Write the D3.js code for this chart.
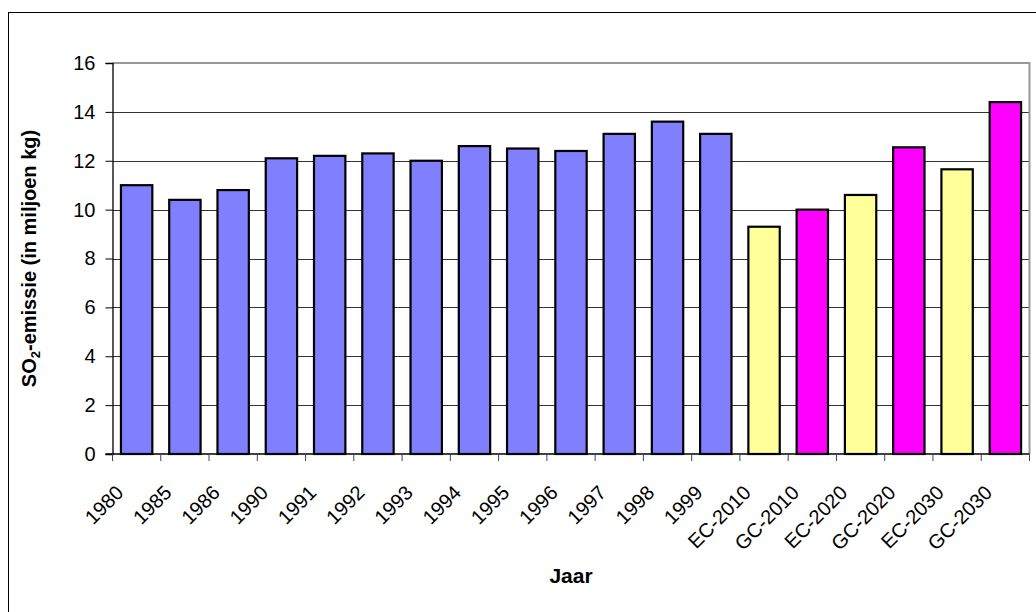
<!DOCTYPE html>
<html>
<head>
<meta charset="utf-8">
<script src="https://cdn.jsdelivr.net/npm/d3@7/dist/d3.min.js"></script>
<style>
  html, body { margin: 0; padding: 0; background: #fff; }
  svg { display: block; font-family: "Liberation Sans", Arial, sans-serif; }
</style>
</head>
<body>
<svg id="chart" width="1036" height="612"></svg>
<script>
const categories = ["1980","1985","1986","1990","1991","1992","1993","1994","1995","1996","1997","1998","1999",
                    "EC-2010","GC-2010","EC-2020","GC-2020","EC-2030","GC-2030"];
const values = [11.0, 10.4, 10.8, 12.1, 12.2, 12.3, 12.0, 12.6, 12.5, 12.4, 13.1, 13.6, 13.1,
                9.3, 10.0, 10.6, 12.55, 11.65, 14.4];
const groups = ["hist","hist","hist","hist","hist","hist","hist","hist","hist","hist","hist","hist","hist",
                "EC","GC","EC","GC","EC","GC"];
const yTicks = [0, 2, 4, 6, 8, 10, 12, 14, 16];
const groupColors = { hist: "#8080FF", EC: "#FFFF99", GC: "#FF00FF" };

const svg = d3.select("#chart");
const plot = { left: 112.5, right: 1029.5, top: 63, bottom: 454 };

// outer chart border
svg.append("rect").attr("x", 8.5).attr("y", 12.5).attr("width", 1040).attr("height", 620)
  .attr("fill", "none").attr("stroke", "#000").attr("stroke-width", 1);

const x = d3.scaleBand().domain(categories).range([plot.left, plot.right]).paddingInner(0.35).paddingOuter(0.175);
const y = d3.scaleLinear().domain([0, 16]).range([plot.bottom, plot.top]);

// gridlines
svg.append("g").selectAll("line").data(yTicks.filter(d => d > 0 && d < 16)).join("line")
  .attr("x1", plot.left).attr("x2", plot.right)
  .attr("y1", d => Math.round(y(d)) + 0.5).attr("y2", d => Math.round(y(d)) + 0.5)
  .attr("stroke", "#333").attr("stroke-width", 1);

// plot area border top/right (gray)
svg.append("path")
  .attr("d", `M${plot.left},${plot.top} H${plot.right} V${plot.bottom}`)
  .attr("fill", "none").attr("stroke", "#999").attr("stroke-width", 2);

// bars
svg.append("g").selectAll("rect").data(categories).join("rect")
  .attr("x", (d) => x(d))
  .attr("y", (d, i) => y(values[i]))
  .attr("width", x.bandwidth())
  .attr("height", (d, i) => y(0) - y(values[i]))
  .attr("fill", (d, i) => groupColors[groups[i]])
  .attr("stroke", "#000").attr("stroke-width", 2.2);

// y axis
const yAxis = d3.axisLeft(y).tickValues(yTicks).tickSize(7).tickPadding(10);
const gy = svg.append("g").attr("transform", `translate(${plot.left},0)`).call(yAxis);
gy.select(".domain").attr("stroke", "#000").attr("stroke-width", 1.3);
gy.selectAll(".tick line").attr("stroke", "#000");
gy.selectAll(".tick text").attr("font-size", 20).attr("fill", "#000")
  .attr("font-family", "Liberation Sans, Arial, sans-serif");

// x axis: ticks at category boundaries
const step = x.step();
const boundaries = categories.map((d, i) => i).concat([categories.length]);
const gx = svg.append("g");
gx.append("line").attr("x1", plot.left - 7).attr("x2", plot.right)
  .attr("y1", plot.bottom).attr("y2", plot.bottom)
  .attr("stroke", "#000").attr("stroke-width", 1.3);
gx.selectAll("line.tk").data(boundaries).join("line").attr("class", "tk")
  .attr("x1", i => plot.left + i * step).attr("x2", i => plot.left + i * step)
  .attr("y1", plot.bottom).attr("y2", plot.bottom + 7)
  .attr("stroke", "#444").attr("stroke-width", 1);

gx.selectAll("text").data(categories).join("text")
  .attr("transform", d => `translate(${x(d) + x.bandwidth() / 2 - 12},${plot.bottom + 40}) rotate(-45)`)
  .attr("text-anchor", "end")
  .attr("font-size", 20)
  .attr("fill", "#000")
  .text(d => d);

// axis titles
svg.append("text")
  .attr("x", (plot.left + plot.right) / 2).attr("y", 583)
  .attr("text-anchor", "middle").attr("font-size", 21).attr("font-weight", "bold")
  .text("Jaar");

const yt = svg.append("text")
  .attr("transform", `translate(36,${(plot.top + plot.bottom) / 2}) rotate(-90)`)
  .attr("text-anchor", "middle").attr("font-size", 20).attr("font-weight", "bold");
yt.append("tspan").text("SO");
yt.append("tspan").attr("font-size", 13).attr("dy", 4).text("2");
yt.append("tspan").attr("dy", -4).text("-emissie (in miljoen kg)");
</script>
</body>
</html>
